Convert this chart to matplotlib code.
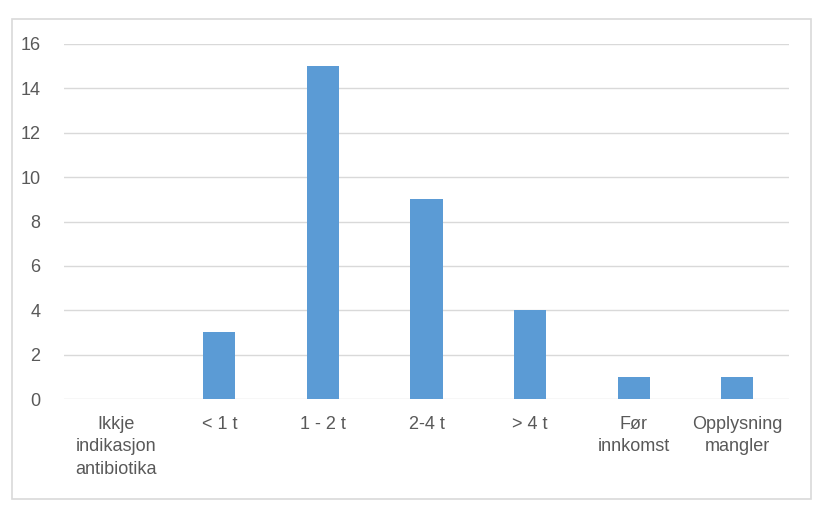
import matplotlib
matplotlib.use("Agg")
import matplotlib.pyplot as plt
from matplotlib.patches import Rectangle

categories = ["Ikkje\nindikasjon\nantibiotika", "< 1 t", "1 - 2 t", "2-4 t", "> 4 t", "Før\ninnkomst", "Opplysning\nmangler"]
values = [0, 3, 15, 9, 4, 1, 1]
yticks = [0, 2, 4, 6, 8, 10, 12, 14, 16]

plt.rcParams['font.family'] = ['Liberation Sans', 'DejaVu Sans']
text_color = "#595959"
grid_color = "#d9d9d9"
bar_color = "#5b9bd5"

fig = plt.figure(figsize=(8.25, 5.14), dpi=100)
fig.patch.set_facecolor("white")
fig.patches.append(Rectangle((12/825, 1-499/514), 799/825, 480/514, transform=fig.transFigure,
                             fill=False, edgecolor=grid_color, linewidth=1.2, zorder=0))

ax = fig.add_axes([64/825, 1-399/514, (789-64)/825, (399-44)/514])
x = list(range(len(categories)))
ax.bar(x, values, width=0.31, color=bar_color, zorder=3)
ax.set_xlim(-0.5, len(categories)-0.5)
ax.set_ylim(0, 16)
ax.set_yticks(yticks)
ax.set_xticks(x)
ax.set_xticklabels(categories, linespacing=1.42, va="top")
ax.yaxis.grid(True, color=grid_color, linewidth=1.0, zorder=0)
ax.set_axisbelow(True)
for s in ax.spines.values():
    s.set_visible(False)
ax.tick_params(axis="both", length=0, labelsize=13, colors=text_color)
ax.tick_params(axis="y", pad=17)
ax.tick_params(axis="x", pad=12)

fig.savefig("out.png", dpi=100)
